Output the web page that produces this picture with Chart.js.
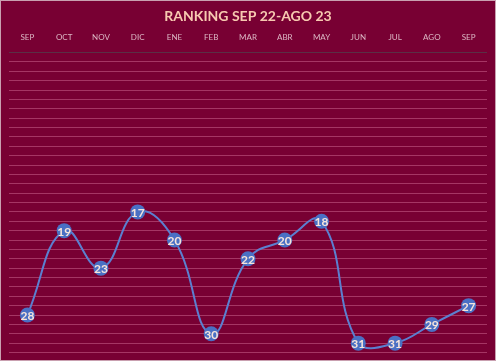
<!DOCTYPE html>
<html>
<head>
<meta charset="utf-8">
<script src="https://cdn.jsdelivr.net/npm/chart.js@4.4.0/dist/chart.umd.min.js"></script>
<style>
  html, body { margin: 0; padding: 0; background: #c9a0b0; }
  #wrap { position: absolute; left: 1px; top: 1px; width: 494px; height: 359px; background: #780033; }
</style>
</head>
<body>
<div id="wrap"><canvas id="chart" width="494" height="359"></canvas></div>
<script>
// Chart data
const months = ['SEP', 'OCT', 'NOV', 'DIC', 'ENE', 'FEB', 'MAR', 'ABR', 'MAY', 'JUN', 'JUL', 'AGO', 'SEP'];
const ranking = [28, 19, 23, 17, 20, 30, 22, 20, 18, 31, 31, 29, 27];
const rankMin = 0;
const rankMax = 32;

// Draw the value inside each point
const pointLabels = {
  id: 'pointLabels',
  afterDatasetsDraw(chart) {
    const ctx = chart.ctx;
    const meta = chart.getDatasetMeta(0);
    ctx.save();
    ctx.font = 'bold 12px Lato';
    ctx.fillStyle = '#f6e4dc';
    ctx.textAlign = 'center';
    ctx.textBaseline = 'middle';
    meta.data.forEach((pt, i) => {
      ctx.fillText(ranking[i], pt.x, pt.y + 1);
    });
    ctx.restore();
  }
};

new Chart(document.getElementById('chart'), {
  type: 'line',
  data: {
    labels: months,
    datasets: [{
      data: ranking,
      borderColor: '#5b7fd0',
      borderWidth: 2,
      tension: 0.45,
      pointRadius: 7.5,
      pointBackgroundColor: '#4a70c4',
      pointBorderColor: '#4a70c4',
      pointBorderWidth: 0
    }]
  },
  options: {
    responsive: false,
    animation: false,
    layout: { padding: { left: 8, right: 8, bottom: 7 } },
    plugins: {
      legend: { display: false },
      tooltip: { enabled: false },
      title: {
        display: true,
        text: 'RANKING SEP 22-AGO 23',
        color: '#f7c9b0',
        font: { family: 'Lato', size: 14, weight: 'bold', lineHeight: 1 },
        padding: { top: 8, bottom: 0 }
      }
    },
    scales: {
      x: {
        position: 'top',
        offset: true,
        grid: { display: false, drawTicks: false },
        border: { display: false },
        ticks: {
          color: '#dcb6c4',
          font: { family: 'Lato', size: 8 },
          maxRotation: 0,
          padding: 10
        }
      },
      y: {
        reverse: true,
        min: rankMin,
        max: rankMax,
        ticks: { display: false, stepSize: 1 },
        border: { display: false },
        grid: {
          drawTicks: false,
          lineWidth: 1,
          color: c => c.tick.value === 0 ? '#5a2f45' : 'rgba(220,120,160,0.45)'
        }
      }
    }
  },
  plugins: [pointLabels]
});
</script>
</body>
</html>
